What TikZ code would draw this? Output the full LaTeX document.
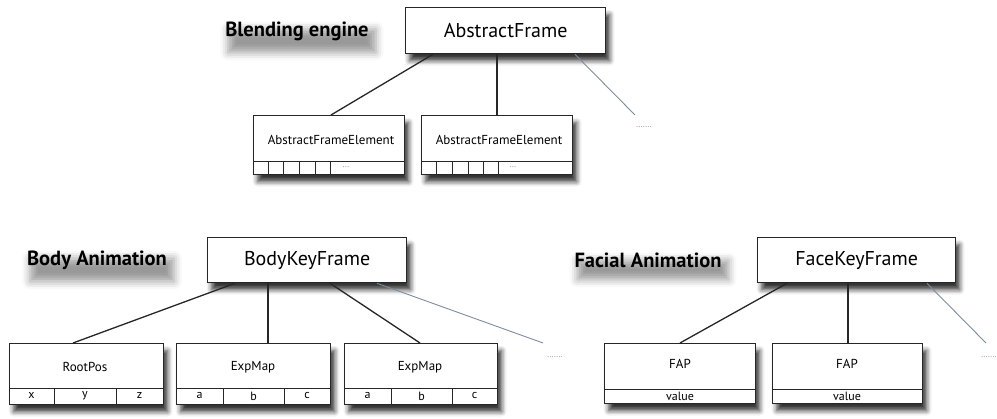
\documentclass[tikz,border=0pt]{standalone}
\usepackage{fontspec}
\setmainfont{PT Sans}
\usetikzlibrary{shadows.blur,calc}
\definecolor{ghostc}{RGB}{125,140,155}
\begin{document}
\begin{tikzpicture}[x=1pt,y=-1pt,
  box/.style={draw=black!85, line width=1.3pt, fill=white, inner sep=0pt, anchor=north west,
    blur shadow={shadow xshift=4pt, shadow yshift=-7pt, shadow blur radius=5pt, shadow opacity=80}},
  head/.style={font=\fontsize{20}{22}\selectfont},
  small/.style={font=\fontsize{13}{14}\selectfont, inner sep=0pt},
  cell/.style={font=\fontsize{12}{13}\selectfont, inner sep=0pt},
  label/.style={font=\bfseries\fontsize{20.5}{22}\selectfont, inner sep=2pt,
    blur shadow={shadow xshift=5pt, shadow yshift=-10pt, shadow blur radius=8pt, shadow opacity=40}},
  link/.style={line width=1.3pt, draw=black!85},
  ghost/.style={line width=0.9pt, draw=ghostc},
  dots/.style={font=\fontsize{8}{9}\selectfont, text=gray, inner sep=0pt},
  cellline/.style={line width=1pt, draw=black!85}
]
\useasboundingbox (0,0) rectangle (997,419);

% ---------------- Blending engine ----------------
\node[label] (lblend) at (297,31) {Blending engine};
\node[box, minimum width=200pt, minimum height=46pt] (af) at (405,7) {};
\node[head] (aft) at (af.center) {AbstractFrame};

\node[box, minimum width=151pt, minimum height=59pt] (afe1) at (253,115) {};
\node[box, minimum width=151pt, minimum height=59pt] (afe2) at (421,115) {};
\node[small] (afe1t) at (331,140) {AbstractFrameElement};
\node[small] (afe2t) at (499,140) {AbstractFrameElement};
\draw[cellline] (afe1.west |- 0,162) -- (afe1.east |- 0,162);
\draw[cellline] (afe2.west |- 0,162) -- (afe2.east |- 0,162);
\foreach \x in {268,283,299,315,330} \draw[cellline] (\x,162) -- (afe1.south -| \x,0);
\foreach \x in {436,452,468,483,498} \draw[cellline] (\x,162) -- (afe2.south -| \x,0);
\node[dots] (afe1d) at (346,167) {...};
\node[dots] (afe2d) at (513,167) {...};

\draw[link] (af.south -| 433,0) -- (afe1.north -| 331,0);
\draw[link] (af.south -| 497,0) -- (afe2.north -| 497,0);
\coordinate (afend) at (635,115);
\draw[ghost] (af.south -| 575,0) -- (afend);
\node[dots] (afdots) at (644,127) {.......};

% ---------------- Body Animation ----------------
\node[label] (lbody) at (97,260) {Body Animation};
\node[box, minimum width=199pt, minimum height=45pt] (bkf) at (207,237) {};
\node[head] (bkft) at (bkf.center) {BodyKeyFrame};

\node[box, minimum width=154pt, minimum height=61pt] (root) at (9,343) {};
\node[box, minimum width=154pt, minimum height=61pt] (exp1) at (176,343) {};
\node[box, minimum width=153pt, minimum height=61pt] (exp2) at (344,343) {};
\node[small] (roott) at (85,367) {RootPos};
\node[small] (exp1t) at (253,367) {ExpMap};
\node[small] (exp2t) at (420,367) {ExpMap};
\foreach \n in {root,exp1,exp2} \draw[cellline] (\n.west |- 0,389) -- (\n.east |- 0,389);
\foreach \x in {54,116,223,284,391,452} \draw[cellline] (\x,389) -- (\x,404);
\node[cell] (rx) at (31.5,396) {x};
\node[cell] (ry) at (85,396) {y};
\node[cell] (rz) at (139.5,396) {z};
\node[cell] (e1a) at (199.5,396) {a};
\node[cell] (e1b) at (253.5,396) {b};
\node[cell] (e1c) at (307,396) {c};
\node[cell] (e2a) at (367.5,396) {a};
\node[cell] (e2b) at (421.5,396) {b};
\node[cell] (e2c) at (474.5,396) {c};

\draw[link] (bkf.south -| 235,0) -- (root.north -| 73,0);
\draw[link] (bkf.south -| 268,0) -- (exp1.north -| 268,0);
\draw[link] (bkf.south -| 330,0) -- (exp2.north -| 420,0);
\coordinate (bkend) at (543,343);
\draw[ghost] (bkf.south -| 377,0) -- (bkend);
\node[dots] (bkdots) at (555,357) {.......};

% ---------------- Facial Animation ----------------
\node[label] (lface) at (648,260) {Facial Animation};
\node[box, minimum width=198pt, minimum height=45pt] (fkf) at (757,237) {};
\node[head] (fkft) at (fkf.center) {FaceKeyFrame};

\node[box, minimum width=151pt, minimum height=60pt] (fap1) at (604,343) {};
\node[box, minimum width=150pt, minimum height=60pt] (fap2) at (772,343) {};
\node[small] (fap1t) at (680,364) {FAP};
\node[small] (fap2t) at (847,364) {FAP};
\foreach \n in {fap1,fap2} \draw[cellline] (\n.west |- 0,390) -- (\n.east |- 0,390);
\node[cell] (fap1v) at (680,396.5) {value};
\node[cell] (fap2v) at (847,396.5) {value};

\draw[link] (fkf.south -| 787,0) -- (fap1.north -| 680,0);
\draw[link] (fkf.south -| 848,0) -- (fap2.north -| 848,0);
\coordinate (fkend) at (986,343);
\draw[ghost] (fkf.south -| 927,0) -- (fkend);
\node[dots] (fkdots) at (989,357) {.......};
\end{tikzpicture}
\end{document}
